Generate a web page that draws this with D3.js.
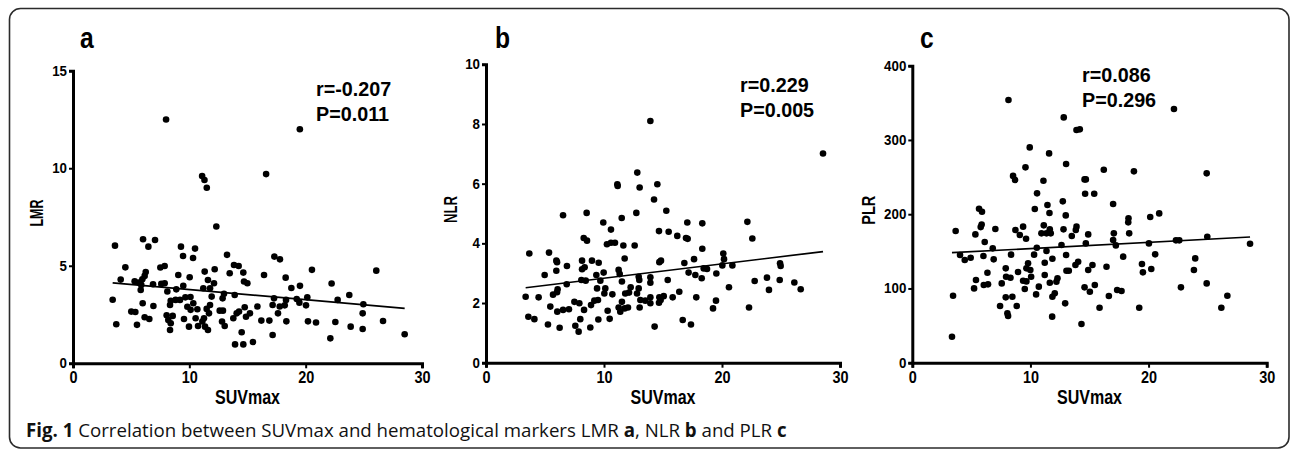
<!DOCTYPE html>
<html>
<head>
<meta charset="utf-8">
<script src="https://cdn.jsdelivr.net/npm/d3@7"></script>
<style>
  html, body { margin: 0; padding: 0; background: #fff; }
  svg { display: block; }
</style>
</head>
<body>
<script>
// ---------------- DATA ----------------
const xTicks = [0, 10, 20, 30];
const lmrTicks = [0, 5, 10, 15];
const nlrTicks = [0, 2, 4, 6, 8, 10];
const plrTicks = [0, 100, 200, 300, 400];

// Panel a: SUVmax vs LMR
const lmrPoints = [
  [8.0,12.5],[19.5,12.0],[16.6,9.7],[11.1,9.6],[11.3,9.4],[11.5,9.0],
  [12.32,7.01],[3.61,6.03],[6.02,6.36],[7.05,6.32],[6.48,5.98],[9.28,5.98],[10.49,5.88],
  [9.46,5.50],[10.32,5.40],[13.24,5.56],[17.31,5.47],[17.79,5.33],[4.50,4.92],[7.51,4.91],
  [7.88,4.99],[6.25,4.68],[6.16,4.48],[4.10,4.29],[5.30,4.21],[5.67,4.14],[5.96,4.31],
  [5.87,4.02],[5.82,3.76],[6.88,4.05],[7.59,4.07],[7.88,4.10],[9.05,4.53],[10.03,4.41],
  [8.11,3.68],[8.88,3.79],[9.48,3.97],[9.66,3.38],[8.40,3.21],[8.82,3.25],[8.34,2.99],
  [5.99,3.08],[6.91,2.94],[3.41,3.26],[5.01,2.65],[5.36,2.63],[3.72,2.00],[5.50,1.97],
  [6.16,2.36],[6.56,2.27],[8.05,2.46],[8.19,2.22],[8.57,2.43],[8.40,2.05],[8.34,1.71],
  [9.54,2.27],[9.97,1.88],[10.11,2.74],[10.34,3.08],[10.69,2.77],[10.54,2.31],[10.75,1.91],
  [11.26,2.31],[11.12,2.14],[11.35,1.88],[11.60,1.71],[11.69,2.56],[11.78,2.99],[11.92,3.42],
  [11.20,3.85],[11.78,3.85],[11.32,4.70],[11.60,4.27],[12.18,4.82],[12.12,4.10],[12.61,2.70],
  [12.89,2.70],[12.81,2.14],[13.04,1.91],[12.86,3.33],[12.98,3.56],[13.47,4.62],[13.90,3.50],
  [13.84,5.04],[14.24,4.99],[14.64,4.65],[14.70,4.19],[14.99,4.10],[13.78,2.31],[14.07,2.56],
  [14.27,2.65],[14.76,2.87],[14.87,2.39],[15.21,2.56],[15.85,2.91],[14.50,1.59],[13.93,0.97],
  [14.64,0.97],[15.47,1.09],[16.19,2.19],[16.88,2.19],[16.42,4.53],[17.16,1.45],[17.16,2.99],
  [17.28,3.33],[17.62,2.56],[17.77,2.91],[18.20,2.97],[18.31,3.25],[18.34,2.15],[18.28,4.39],
  [18.77,3.86],[19.51,3.97],[19.23,3.30],[19.46,3.11],[20.03,2.97],[20.14,3.38],[20.20,2.15],
  [20.54,4.79],[20.89,2.09],[22.12,1.28],[22.23,4.09],[22.55,2.12],[22.75,3.25],[23.75,3.50],
  [23.87,1.88],[24.90,1.76],[24.90,2.56],[24.96,3.03],[26.07,4.75],[26.65,2.17],[28.51,1.49],
  [10.1,3.4],[9.83,2.9],[11.49,2.79],[9.2,3.25]
];

// Panel b: SUVmax vs NLR
const nlrPoints = [
  [13.93,8.10],[28.56,7.01],[12.82,6.37],[11.13,5.98],[11.16,5.92],[13.02,5.87],[14.52,5.98],
  [14.24,5.47],[15.28,5.09],[12.74,5.02],[11.50,4.85],[8.53,5.02],[6.53,4.94],[9.94,4.70],
  [10.59,4.46],[17.06,4.70],[18.33,4.67],[22.15,4.72],[22.57,4.16],[14.66,4.41],[15.48,4.39],
  [16.21,4.25],[16.95,4.18],[17.09,4.15],[8.28,4.18],[8.56,4.09],[10.25,3.97],[10.59,4.02],
  [10.93,4.02],[11.64,3.93],[12.60,3.93],[18.33,3.82],[3.67,3.66],[5.34,3.69],[5.96,3.42],
  [6.02,3.37],[5.96,3.08],[6.86,3.24],[8.14,3.42],[8.36,3.20],[8.14,3.13],[8.98,3.42],
  [9.55,3.35],[11.75,3.49],[14.69,3.37],[14.83,3.42],[17.63,3.47],[16.81,3.34],[20.11,3.66],
  [20.17,3.47],[20.03,3.26],[20.88,3.26],[24.92,3.33],[24.97,3.24],[4.97,2.94],[6.84,2.63],
  [8.08,2.77],[8.45,2.75],[9.35,2.94],[9.97,3.02],[9.69,2.75],[11.24,3.11],[11.33,2.97],
  [11.52,2.72],[12.94,2.88],[12.99,2.77],[13.93,2.86],[13.93,2.68],[15.40,2.77],[17.17,3.02],
  [17.74,2.94],[18.28,2.83],[18.45,3.16],[18.73,3.14],[19.52,2.99],[20.59,2.53],[22.77,2.74],
  [23.81,2.85],[23.98,2.44],[24.89,2.77],[26.13,2.69],[26.67,2.46],[3.36,2.21],[4.46,2.19],
  [5.68,2.28],[6.07,2.46],[6.02,2.36],[5.45,1.88],[6.04,1.71],[6.53,1.77],[7.03,1.79],
  [7.49,2.04],[7.91,1.99],[8.31,1.77],[8.90,1.93],[9.18,2.08],[9.49,2.10],[9.41,2.49],
  [10.11,2.49],[10.03,2.32],[10.31,1.74],[10.71,2.29],[11.24,1.85],[11.38,1.71],[11.75,1.82],
  [12.03,1.85],[11.52,2.04],[11.80,2.32],[12.12,2.35],[12.26,2.53],[12.94,2.49],[12.80,2.32],
  [13.08,2.10],[13.02,1.85],[13.50,2.08],[13.93,1.99],[13.93,2.19],[14.69,2.19],[14.80,2.10],
  [15.06,2.23],[14.66,2.01],[15.82,2.19],[16.38,2.38],[17.82,2.19],[19.49,2.08],[19.24,1.82],
  [22.29,1.85],[3.59,1.54],[4.10,1.46],[5.25,1.28],[6.24,1.17],[7.57,1.24],[7.85,1.04],
  [7.99,1.46],[8.84,1.18],[9.52,1.45],[10.48,1.47],[14.29,1.21],[16.67,1.43],[17.37,1.28]
];

// Panel c: SUVmax vs PLR
const plrPoints = [
  [8.14,353.8],[22.15,341.6],[12.82,330.4],[13.90,313.4],[14.18,314.3],[9.94,290.0],[11.58,281.9],
  [13.02,267.6],[9.58,263.1],[16.21,259.9],[18.76,257.7],[24.92,255.0],[8.53,251.6],[8.70,246.0],
  [11.10,245.1],[14.58,246.9],[14.69,246.9],[10.56,228.1],[14.63,227.6],[15.40,227.6],[12.74,217.3],
  [17.00,213.7],[10.37,207.0],[11.44,212.3],[11.61,201.6],[12.99,198.4],[5.65,207.4],[5.90,203.4],
  [18.30,194.4],[18.28,189.0],[20.90,201.1],[20.14,196.2],[5.87,186.1],[5.79,182.6],[7.03,180.0],
  [3.67,177.3],[5.34,172.8],[8.73,178.7],[9.10,172.0],[9.38,183.2],[9.63,167.0],[6.13,162.5],
  [11.13,185.0],[10.93,174.2],[11.36,174.2],[11.72,174.2],[11.64,179.6],[12.80,179.6],[13.90,183.2],
  [13.84,178.7],[13.50,170.6],[14.89,172.8],[18.36,174.2],[17.06,174.2],[17.00,165.2],[17.23,158.0],
  [12.63,158.5],[14.69,160.7],[20.03,160.7],[22.32,164.8],[22.60,164.8],[24.97,169.7],[28.59,160.3],
  [10.54,154.9],[11.36,150.4],[6.81,154.0],[4.04,145.0],[4.44,138.3],[4.94,141.4],[6.02,143.7],
  [6.89,139.2],[8.36,145.5],[10.31,145.5],[11.86,140.1],[13.02,145.0],[14.04,136.0],[13.81,131.5],
  [14.89,124.8],[15.25,131.5],[16.44,129.3],[17.85,142.8],[19.44,132.9],[19.52,121.7],[20.23,126.1],
  [20.56,145.9],[23.95,140.5],[23.84,124.8],[9.80,133.8],[9.99,124.8],[10.06,115.8],[11.21,134.7],
  [9.66,127.1],[7.91,127.1],[8.95,122.1],[6.36,121.2],[5.39,111.3],[5.23,100.1],[6.05,104.6],
  [6.41,105.5],[7.57,106.8],[7.94,115.8],[8.31,114.5],[9.38,110.4],[9.66,109.5],[11.21,118.1],
  [12.29,113.6],[12.20,109.1],[11.64,107.7],[13.05,123.9],[13.25,123.9],[9.52,99.2],[10.71,102.4],
  [10.48,92.0],[12.06,93.4],[11.86,88.9],[14.58,101.5],[15.03,95.6],[15.45,104.6],[16.64,89.8],
  [17.34,97.9],[17.71,96.5],[22.74,101.5],[24.92,106.8],[3.45,90.2],[7.91,88.0],[8.47,88.9],
  [7.43,76.3],[8.84,76.3],[8.05,66.4],[8.11,62.8],[12.94,79.9],[11.84,62.0],[15.85,74.1],
  [19.21,74.1],[26.16,74.1],[26.67,90.2],[14.32,52.1],[3.36,35.0]
];

// Regression lines [intercept, slope] and stats texts
const fitA = [4.30, -0.052];
const fitB = [2.35, 0.0481];
const fitC = [145.3, 0.839];
const statsA = ["r=-0.207", "P=0.011"];
const statsB = ["r=0.229", "P=0.005"];
const statsC = ["r=0.086", "P=0.296"];
const caption = ["Fig. 1", " Correlation between SUVmax and hematological markers LMR ", "a", ", NLR ", "b", " and PLR ", "c"];

// ---------------- DRAW ----------------
const W = 1292, H = 451;
const BOLD = "'Liberation Sans', Arial, sans-serif";

const svg = d3.select("body").append("svg").attr("width", W).attr("height", H);

// squeeze a text horizontally (the original uses a condensed bold face)
function condense(sel, factor) {
  sel.each(function () {
    const w = this.getComputedTextLength();
    d3.select(this).attr("textLength", w * factor).attr("lengthAdjust", "spacingAndGlyphs");
  });
}

svg.append("rect")
  .attr("x", 9.5).attr("y", 8.5).attr("width", 1279.5).attr("height", 439.5)
  .attr("rx", 11).attr("ry", 11)
  .attr("fill", "none").attr("stroke", "#2b2b2b").attr("stroke-width", 1.6);

const panels = [
  { letter: "a", title: "LMR", pts: lmrPoints, ticks: lmrTicks, ymax: 15, fit: fitA, stats: statsA,
    x0: 73, x1: 422, y0: 363.3, y1: 70.7, letterX: 80, titleX: 43, titleLen: 27,
    statX: 316, statY: 96 },
  { letter: "b", title: "NLR", pts: nlrPoints, ticks: nlrTicks, ymax: 10, fit: fitB, stats: statsB,
    x0: 486, x1: 840, y0: 362.7, y1: 64.3, letterX: 495, titleX: 457, titleLen: 27,
    statX: 740, statY: 92 },
  { letter: "c", title: "PLR", pts: plrPoints, ticks: plrTicks, ymax: 400, fit: fitC, stats: statsC,
    x0: 912.3, x1: 1266.7, y0: 362.7, y1: 65.7, letterX: 920, titleX: 875, titleLen: 29,
    statX: 1082, statY: 82 }
];

panels.forEach(p => {
  const x = d3.scaleLinear().domain([0, 30]).range([p.x0, p.x1]);
  const y = d3.scaleLinear().domain([0, p.ymax]).range([p.y0, p.y1]);
  const g = svg.append("g");

  // x axis
  const xa = g.append("g")
    .attr("transform", `translate(0,${p.y0})`)
    .call(d3.axisBottom(x).tickValues(xTicks).tickSizeOuter(0).tickSize(5).tickPadding(3));
  xa.select(".domain").attr("stroke", "#000").attr("stroke-width", 3);
  xa.selectAll(".tick line").attr("stroke", "#000").attr("stroke-width", 2);
  xa.selectAll(".tick text")
    .attr("font-family", BOLD).attr("font-weight", "bold").attr("font-size", 17).attr("fill", "#000")
    .call(condense, 0.85);

  // y axis
  const ya = g.append("g")
    .attr("transform", `translate(${p.x0},0)`)
    .call(d3.axisLeft(y).tickValues(p.ticks).tickSizeOuter(0).tickSize(4).tickPadding(2));
  ya.select(".domain").attr("stroke", "#000").attr("stroke-width", 3);
  ya.selectAll(".tick line").attr("stroke", "#000").attr("stroke-width", 2);
  ya.selectAll(".tick text")
    .attr("font-family", BOLD).attr("font-weight", "bold").attr("font-size", 14).attr("fill", "#000")
    .call(condense, 0.95);

  // points
  g.append("g").selectAll("circle").data(p.pts).join("circle")
    .attr("cx", d => x(d[0])).attr("cy", d => y(d[1])).attr("r", 3.3).attr("fill", "#000");

  // regression line over data x-range
  const ext = d3.extent(p.pts, d => d[0]);
  const line = d3.line().x(d => x(d)).y(d => y(p.fit[0] + p.fit[1] * d));
  g.append("path").datum(ext).attr("d", line)
    .attr("fill", "none").attr("stroke", "#000").attr("stroke-width", 1.7);

  // axis titles
  g.append("text")
    .attr("x", (p.x0 + p.x1) / 2).attr("y", 404)
    .attr("text-anchor", "middle")
    .attr("font-family", BOLD).attr("font-weight", "bold").attr("font-size", 21)
    .attr("textLength", 65).attr("lengthAdjust", "spacingAndGlyphs")
    .text("SUVmax");
  g.append("text")
    .attr("transform", `translate(${p.titleX},${(p.y0 + p.y1) / 2 - 4}) rotate(-90)`)
    .attr("text-anchor", "middle")
    .attr("font-family", BOLD).attr("font-weight", "bold").attr("font-size", 18)
    .attr("textLength", p.titleLen).attr("lengthAdjust", "spacingAndGlyphs")
    .text(p.title);

  // panel letter
  g.append("text")
    .attr("x", p.letterX).attr("y", 48)
    .attr("font-family", BOLD).attr("font-weight", "bold").attr("font-size", 29)
    .text(p.letter)
    .call(condense, 0.85);

  // stats: two tight lines, as in the original
  p.stats.forEach((s, i) => {
    g.append("text")
      .attr("x", p.statX).attr("y", p.statY + i * 24.5)
      .attr("font-family", BOLD).attr("font-weight", "bold").attr("font-size", 21)
      .text(s)
      .call(condense, 0.94);
  });
});

// caption
const cap = svg.append("text")
  .attr("x", 26).attr("y", 437)
  .attr("font-family", "'Open Sans', 'Noto Sans', sans-serif").attr("font-size", 17).attr("fill", "#111");
caption.forEach((t, i) => {
  cap.append("tspan")
    .attr("font-weight", (i === 0 || i === 2 || i === 4 || i === 6) ? "bold" : "normal")
    .text(t);
});
const capW = cap.node().getComputedTextLength();
cap.attr("font-size", 17 * 761 / capW);
</script>
</body>
</html>
